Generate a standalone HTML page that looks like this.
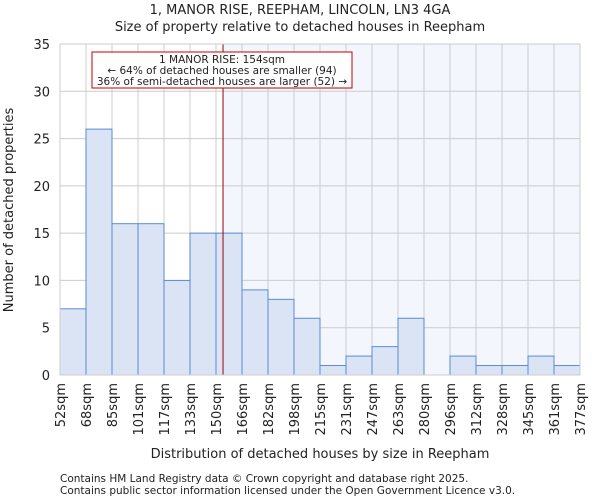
<!DOCTYPE html>
<html><head><meta charset="utf-8"><style>
body{margin:0;background:#fff;font-family:"DejaVu Sans","Liberation Sans",sans-serif;}
svg text{font-family:"DejaVu Sans","Liberation Sans",sans-serif;fill:#222;}
</style></head><body>
<svg id="c" width="600" height="500"></svg>
<script>
const categories=["52sqm","68sqm","85sqm","101sqm","117sqm","133sqm","150sqm","166sqm","182sqm","198sqm","215sqm","231sqm","247sqm","263sqm","280sqm","296sqm","312sqm","328sqm","345sqm","361sqm","377sqm"];
const counts=[7,26,16,16,10,15,15,9,8,6,1,2,3,6,0,2,1,1,2,1];
const yTicks=[0,5,10,15,20,25,30,35];
const markerBin=6.27;
const NS="http://www.w3.org/2000/svg";
const svg=document.getElementById('c');
const L=60,R=580,T=44,B=375,yMax=35;
const bw=(R-L)/counts.length;
const x=i=>L+i*bw;
const y=v=>B-v/yMax*(B-T);
function el(t,a,txt){const e=document.createElementNS(NS,t);for(const k in a)e.setAttribute(k,a[k]);if(txt!==undefined)e.textContent=txt;svg.appendChild(e);return e;}
let e;
e=el('text',{x:300,y:14,'text-anchor':'middle','font-size':13},'1, MANOR RISE, REEPHAM, LINCOLN, LN3 4GA');


e=el('text',{x:300,y:31,'text-anchor':'middle','font-size':13},'Size of property relative to detached houses in Reepham');


e=el('rect',{x:x(markerBin),y:T,width:R-x(markerBin),height:B-T,fill:'#f3f6fd'});


for(const t of yTicks){
 e=el('line',{x1:L,x2:R,y1:y(t),y2:y(t),stroke:'#ccc','stroke-width':1});
 
 
 e=el('text',{x:50,y:y(t)+5,'text-anchor':'end','font-size':13},t);
 
 
}
for(let i=0;i<=counts.length;i++){
 e=el('line',{x1:x(i),x2:x(i),y1:T,y2:B,stroke:'#ccc','stroke-width':1});
 
 
 e=el('text',{transform:`translate(${x(i)+5},${B+8}) rotate(-90)`,'text-anchor':'end','font-size':13},categories[i]);
 
 
}
counts.forEach((v,i)=>{
 if(v<=0)return;
 e=el('rect',{x:x(i),y:y(v),width:bw,height:B-y(v),fill:'#dbe4f4',stroke:'#5a8ad6','stroke-width':1});
 
 
});
e=el('line',{x1:x(markerBin),x2:x(markerBin),y1:T,y2:B,stroke:'#a00000','stroke-width':1});


e=el('rect',{x:92,y:52,width:260,height:36,fill:'#fff',stroke:'#c00000','stroke-width':1});


[['1 MANOR RISE: 154sqm',63],['← 64% of detached houses are smaller (94)',74],['36% of semi-detached houses are larger (52) →',85]].forEach(([t,yy])=>{
 e=el('text',{x:222,y:yy,'text-anchor':'middle','font-size':10.5,fill:'#111'},t);
 
 
});
e=el('rect',{x:L,y:T,width:R-L,height:B-T,fill:'none',stroke:'#ccc'});


e=el('text',{transform:'translate(13,210) rotate(-90)','text-anchor':'middle','font-size':13},'Number of detached properties');


e=el('text',{x:320,y:458,'text-anchor':'middle','font-size':13},'Distribution of detached houses by size in Reepham');


e=el('text',{x:60,y:482,'font-size':10.5,fill:'#444'},'Contains HM Land Registry data © Crown copyright and database right 2025.');


e=el('text',{x:60,y:494,'font-size':10.5,fill:'#444'},'Contains public sector information licensed under the Open Government Licence v3.0.');


</script>
</body></html>
